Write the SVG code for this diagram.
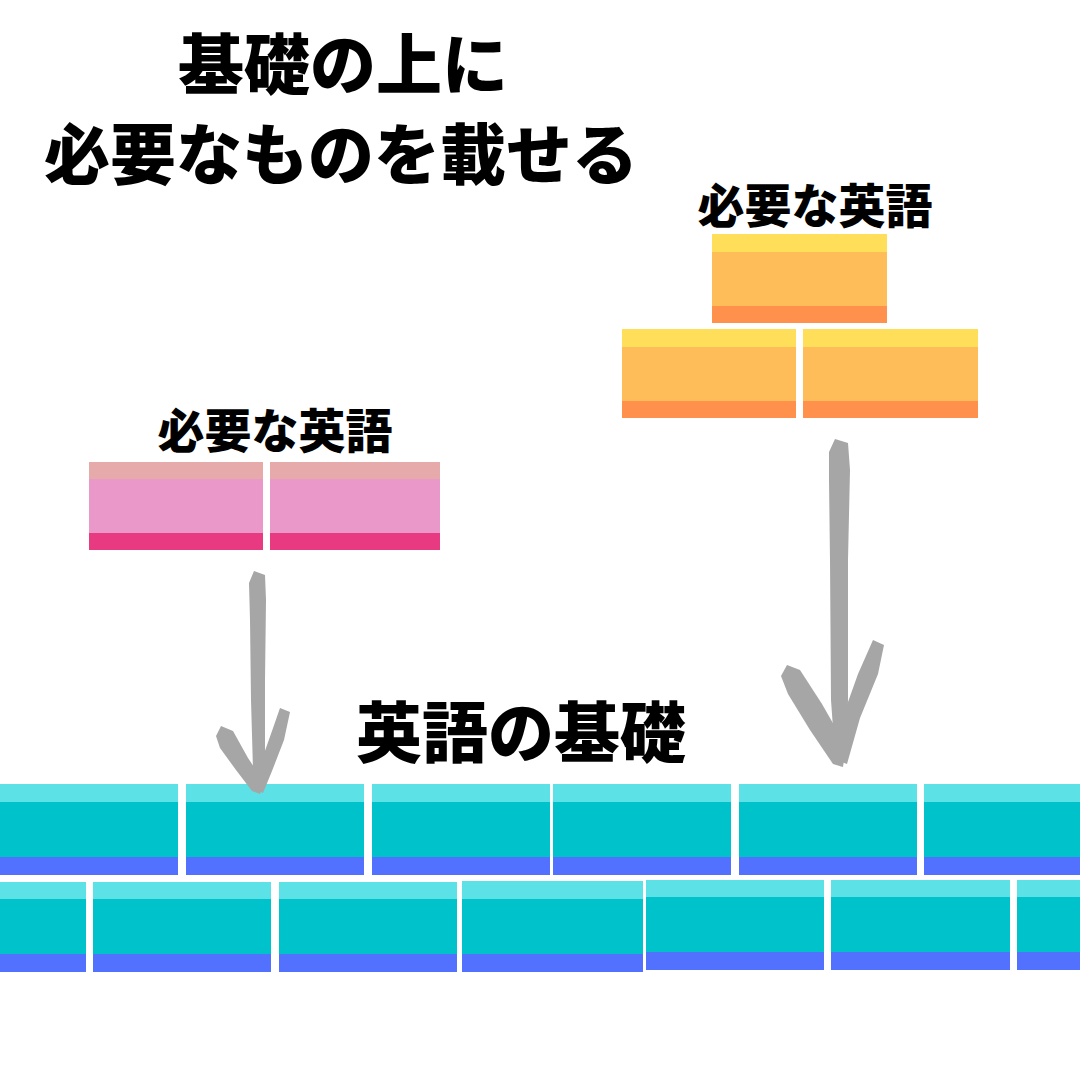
<svg xmlns="http://www.w3.org/2000/svg" width="1080" height="1080" viewBox="0 0 1080 1080">
<defs>
<style>
.t{font-family:"Noto Sans CJK JP","Noto Sans CJK SC",sans-serif;font-weight:900;fill:#000;text-anchor:middle}
.big{font-size:66px}
.mid{font-size:47px}
.tl{fill:#5CE1E6}.tm{fill:#00C2CB}.td{fill:#5271FF}
.ol{fill:#FFDE59}.om{fill:#FFBD59}.od{fill:#FF914D}
.pl{fill:#E7AAAA}.pm{fill:#EA97C9}.pd{fill:#E83A80}
.arr{fill:#A6A6A6}
</style>
</defs>
<rect width="1080" height="1080" fill="#fff"/>

<g id="title">
<text class="t big" x="343" y="89">基礎の上に</text>
<text class="t big" x="341" y="179">必要なものを載せる</text>
</g>

<g id="orange-stack">
<text class="t mid" x="815" y="223">必要な英語</text>
<rect class="om" x="712" y="234" width="175" height="89"/>
<rect class="ol" x="712" y="234" width="175" height="18"/>
<rect class="od" x="712" y="306" width="175" height="17"/>
<rect class="om" x="622" y="329" width="174" height="89"/>
<rect class="ol" x="622" y="329" width="174" height="18"/>
<rect class="od" x="622" y="401" width="174" height="17"/>
<rect class="om" x="803" y="329" width="175" height="89"/>
<rect class="ol" x="803" y="329" width="175" height="18"/>
<rect class="od" x="803" y="401" width="175" height="17"/>
</g>

<g id="pink-stack">
<text class="t mid" x="275" y="448">必要な英語</text>
<rect class="pm" x="89" y="462" width="174" height="88"/>
<rect class="pl" x="89" y="462" width="174" height="17"/>
<rect class="pd" x="89" y="533" width="174" height="17"/>
<rect class="pm" x="270" y="462" width="170" height="88"/>
<rect class="pl" x="270" y="462" width="170" height="17"/>
<rect class="pd" x="270" y="533" width="170" height="17"/>
</g>

<g id="foundation">
<text class="t big" x="521" y="757">英語の基礎</text>
<g id="row1">
<rect class="tm" x="0" y="784" width="178" height="91"/><rect class="tl" x="0" y="784" width="178" height="18"/><rect class="td" x="0" y="857" width="178" height="18"/>
<rect class="tm" x="186" y="784" width="178" height="91"/><rect class="tl" x="186" y="784" width="178" height="18"/><rect class="td" x="186" y="857" width="178" height="18"/>
<rect class="tm" x="372" y="784" width="178" height="91"/><rect class="tl" x="372" y="784" width="178" height="18"/><rect class="td" x="372" y="857" width="178" height="18"/>
<rect class="tm" x="553" y="784" width="178" height="91"/><rect class="tl" x="553" y="784" width="178" height="18"/><rect class="td" x="553" y="857" width="178" height="18"/>
<rect class="tm" x="739" y="784" width="178" height="91"/><rect class="tl" x="739" y="784" width="178" height="18"/><rect class="td" x="739" y="857" width="178" height="18"/>
<rect class="tm" x="924" y="784" width="156" height="91"/><rect class="tl" x="924" y="784" width="156" height="18"/><rect class="td" x="924" y="857" width="156" height="18"/>
</g>
<g id="row2">
<rect class="tm" x="0" y="882" width="86" height="90"/><rect class="tl" x="0" y="882" width="86" height="17"/><rect class="td" x="0" y="954" width="86" height="18"/>
<rect class="tm" x="93" y="882" width="178" height="90"/><rect class="tl" x="93" y="882" width="178" height="17"/><rect class="td" x="93" y="954" width="178" height="18"/>
<rect class="tm" x="279" y="882" width="178" height="90"/><rect class="tl" x="279" y="882" width="178" height="17"/><rect class="td" x="279" y="954" width="178" height="18"/>
<rect class="tm" x="462" y="881" width="181" height="91"/><rect class="tl" x="462" y="881" width="181" height="18"/><rect class="td" x="462" y="954" width="181" height="18"/>
<rect class="tm" x="646" y="880" width="178" height="90"/><rect class="tl" x="646" y="880" width="178" height="17"/><rect class="td" x="646" y="952" width="178" height="18"/>
<rect class="tm" x="831" y="880" width="179" height="90"/><rect class="tl" x="831" y="880" width="179" height="17"/><rect class="td" x="831" y="952" width="179" height="18"/>
<rect class="tm" x="1017" y="880" width="63" height="90"/><rect class="tl" x="1017" y="880" width="63" height="17"/><rect class="td" x="1017" y="952" width="63" height="18"/>
</g>
</g>

<g id="connectors">
<g id="arrow-right" class="arr">
<path d="M829,452 L835,439 L848,443 L850,470 L848,560 L848,700 L847,742 L841,767 L834,742 L831,700 L830,560 L829,480 Z"/>
<path d="M781,676 L787,665 L800,670 L822,704 L846,746 L843,767 L833,764 L810,730 L788,694 Z"/>
<path d="M873,640 L884,645 L878,674 L860,718 L847,764 L836,760 L843,716 L858,674 Z"/>
</g>
<g id="arrow-left" class="arr">
<path d="M249,583 L254,571 L265,575 L266,600 L265,680 L265,760 L260,793 L253,770 L251,700 L250,620 Z"/>
<path d="M216,736 L221,726 L233,731 L248,758 L264,782 L260,794 L252,791 L236,770 L220,748 Z"/>
<path d="M280,708 L290,712 L284,740 L272,771 L263,793 L254,789 L261,762 L272,731 Z"/>
</g>
</g>
</svg>
